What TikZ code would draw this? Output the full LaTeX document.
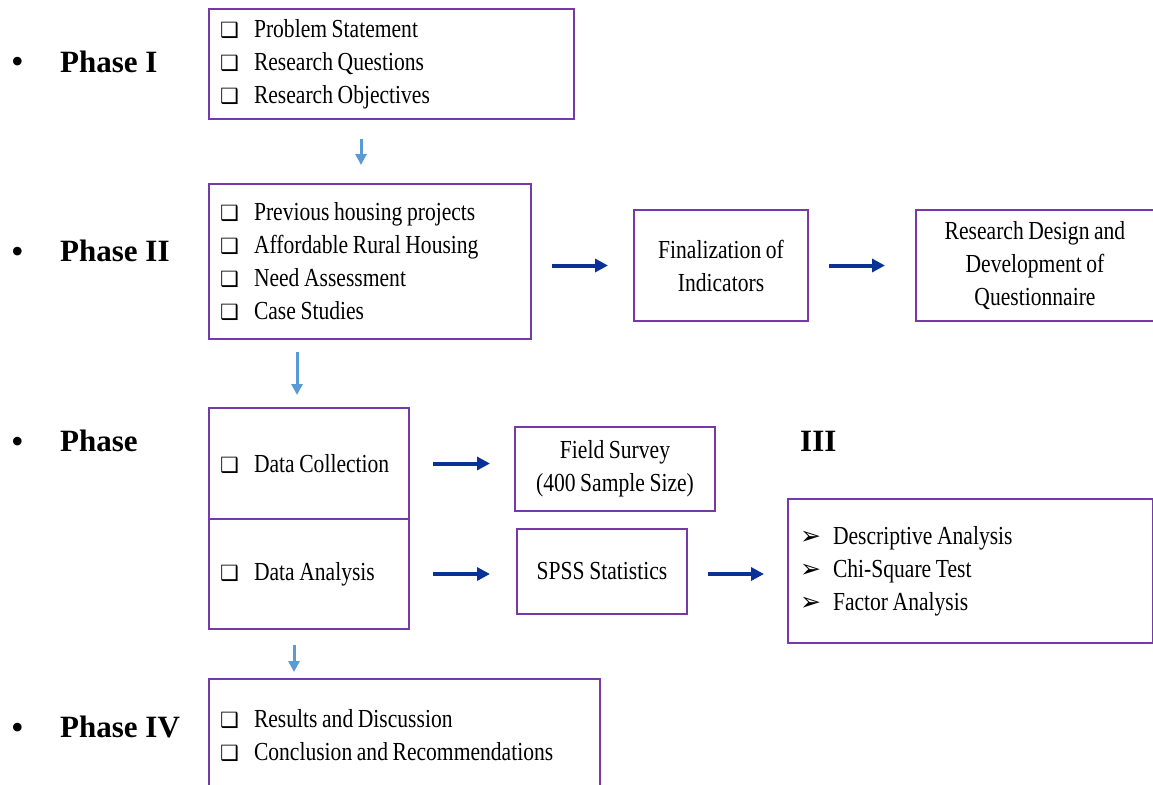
\documentclass[tikz,border=0pt]{standalone}
\usepackage{fontspec}
\setmainfont{Liberation Serif}
\newfontfamily\nar[FakeStretch=0.83,WordSpace=0.85]{Liberation Serif}
\newfontfamily\djv{DejaVu Sans}
\usetikzlibrary{arrows.meta}
\definecolor{bpurple}{RGB}{118,58,168}
\definecolor{dblue}{RGB}{10,50,150}
\definecolor{lblue}{RGB}{91,155,213}
\newcommand{\chkbx}{\makebox[25pt][l]{\hspace{-9pt}\djv\fontsize{21}{21}\selectfont ❑}}
\newcommand{\arrbul}{\makebox[27pt][l]{\hspace{-6pt}\djv\fontsize{25}{25}\selectfont ➢}}
\tikzset{
 box/.style={draw=bpurple, line width=2pt, anchor=north west, inner ysep=0pt, font=\nar\fontsize{26}{33}\selectfont},
 lbox/.style={box, align=flush left, inner xsep=20pt},
 cbox/.style={box, align=center, inner xsep=0pt},
 darrow/.style={draw=dblue, line width=4pt, -{Triangle[length=13pt,width=13pt]}},
 larrow/.style={draw=lblue, line width=3pt, -{Triangle[length=11pt,width=11pt]}},
 phase/.style={anchor=base west, font=\fontsize{31}{36}\selectfont\bfseries, inner sep=0pt},
 bul/.style={anchor=base west, font=\fontsize{36}{36}\selectfont, inner sep=0pt},
}
\begin{document}
\begin{tikzpicture}[x=1pt,y=-1pt]
\useasboundingbox[fill=white] (0,0) rectangle (1153,784);
% phase labels
\node[bul] (d1) at (11,74) {•};
\node[phase] (p1) at (60,72) {Phase I};
\node[bul] (d2) at (11,263) {•};
\node[phase] (p2) at (60,261) {Phase II};
\node[bul] (d3) at (11,453) {•};
\node[phase] (p3) at (60,451) {Phase};
\node[phase] (p3b) at (800,451) {III};
\node[bul] (d4) at (11,739) {•};
\node[phase] (p4) at (60,737) {Phase IV};
% boxes
\node[lbox, text width=325pt, minimum height=110pt] (b1) at (208,8)
 {\chkbx Problem Statement\\ \chkbx Research Questions\\ \chkbx Research Objectives};
\node[lbox, text width=282pt, minimum height=155pt] (b2) at (208,183)
 {\chkbx Previous housing projects\\ \chkbx Affordable Rural Housing\\ \chkbx Need Assessment\\ \chkbx Case Studies};
\node[cbox, minimum width=174pt, minimum height=111pt] (b3) at (633,209)
 {Finalization of\\ Indicators};
\node[cbox, minimum width=238pt, minimum height=111pt] (b4) at (915,209)
 {Research Design and\\ Development of\\ Questionnaire};
\node[lbox, text width=160pt, minimum height=111pt] (b5) at (208,407)
 {\chkbx\mbox{Data Collection}};
\node[lbox, text width=160pt, minimum height=110pt] (b6) at (208,518)
 {\chkbx\mbox{Data Analysis}};
\node[cbox, minimum width=200pt, minimum height=84pt] (b7) at (514,426)
 {Field Survey\\ (400 Sample Size)};
\node[cbox, minimum width=170pt, minimum height=85pt] (b8) at (516,528)
 {SPSS Statistics};
\node[lbox, inner xsep=18pt, text width=329pt, minimum height=144pt] (b9) at (787,498)
 {\arrbul Descriptive Analysis\\ \arrbul Chi-Square Test\\ \arrbul Factor Analysis};
\node[lbox, text width=351pt, minimum height=113pt] (b10) at (208,678)
 {\chkbx Results and Discussion\\ \chkbx Conclusion and Recommendations};
% horizontal arrows
\draw[darrow, shorten <=20pt, shorten >=25pt] (b2.east |- b3.west) -- (b3.west);
\draw[darrow, shorten <=20pt, shorten >=30pt] (b3.east) -- (b4.west);
\draw[darrow, shorten <=23pt, shorten >=24pt] (b5.east) -- (b5.east -| b7.west);
\draw[darrow, shorten <=23pt, shorten >=26pt] (b6.east) -- (b6.east -| b8.west);
\draw[darrow, shorten <=20pt, shorten >=23pt] (b8.east |- b6.east) -- (b6.east -| b9.west);
% vertical arrows
\draw[larrow, shorten <=19pt, shorten >=18pt] ([xshift=153pt]b1.south west) -- ([xshift=153pt]b2.north west);
\draw[larrow, shorten <=12pt, shorten >=12pt] ([xshift=89pt]b2.south west) -- ([xshift=89pt]b5.north west);
\draw[larrow, shorten <=15pt, shorten >=6pt] ([xshift=86pt]b6.south west) -- ([xshift=86pt]b10.north west);
\end{tikzpicture}
\end{document}
